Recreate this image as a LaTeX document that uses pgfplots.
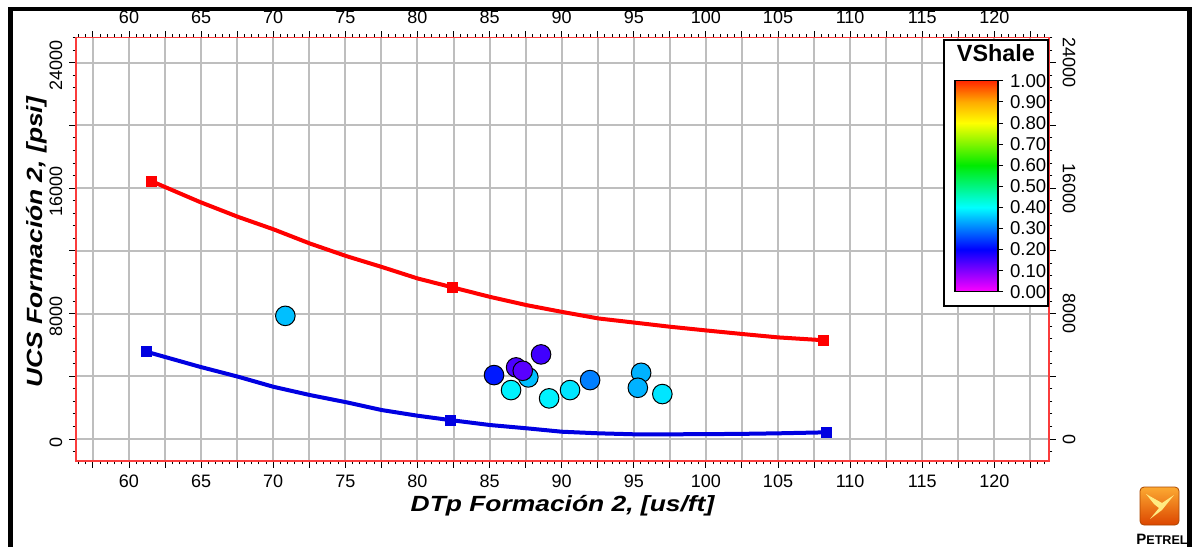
\documentclass[border=0pt]{standalone}
\usepackage{fontspec}
\setmainfont{Liberation Sans}
\newfontfamily\labfont[FakeStretch=1.2]{Liberation Sans}
\usepackage{pgfplots}
\pgfplotsset{compat=1.18}

\definecolor{axred}{RGB}{250,60,60}
\definecolor{gridgray}{RGB}{190,190,190}
\definecolor{lineblue}{RGB}{0,0,225}
\definecolor{logotop}{RGB}{252,170,50}
\definecolor{logobot}{RGB}{220,70,0}
\definecolor{logoedge}{RGB}{170,70,0}
\definecolor{logoin}{RGB}{255,235,130}

\pgfplotsset{
 colormap={petrel}{rgb255(0cm)=(255,0,255) rgb255(2cm)=(0,0,255) rgb255(4cm)=(0,255,255) rgb255(6cm)=(0,235,0) rgb255(8cm)=(255,255,0) rgb255(9cm)=(255,170,0) rgb255(10cm)=(255,40,0)},
 petrelaxis/.style={
  at={(38pt,-230.5pt)}, anchor=south west, scale only axis,
  width=486.5pt, height=211.65pt,
  xmin=56.325, xmax=123.79, ymin=-1403, ymax=25594,
  scaled x ticks=false, scaled y ticks=false,
  xtick={57.5,60,62.5,65,67.5,70,72.5,75,77.5,80,82.5,85,87.5,90,92.5,95,97.5,100,102.5,105,107.5,110,112.5,115,117.5,120,122.5},
  xticklabels={{},60,{},65,{},70,{},75,{},80,{},85,{},90,{},95,{},100,{},105,{},110,{},115,{},120,{}},
  ytick={0,4000,8000,12000,16000,20000,24000},
  yticklabels={0,{},8000,{},16000,{},24000},
  ticklabel style={font=\fontsize{9}{10}\selectfont},
  tick align=outside, major tick length=3.3pt, minor tick length=1.7pt,
 }
}

\pgfplotstableread{
x y v
85.31 4077 0.22
87.69 3930 0.35
86.84 4567 0.14
87.30 4351 0.13
88.57 5395 0.15
86.49 3121 0.39
89.13 2592 0.39
90.58 3121 0.38
91.97 3758 0.30
95.51 4223 0.34
95.28 3268 0.34
96.98 2867 0.38
70.84 7854 0.35
}\vshale

\begin{document}
\begin{tikzpicture}
\useasboundingbox (0,0) rectangle (598pt,-273.5pt);

\begin{axis}[petrelaxis,
 axis line style={draw=axred, line width=0.75pt},
 tick style={black, line width=0.5pt},
 minor xtick={56.5,57,...,123.5},
 minor ytick={-800,0,...,25600},
 grid=major, major grid style={color=gridgray, line width=1pt},
 xlabel={\labfont\bfseries\itshape DTp Formación 2, [us/ft]},
 ylabel={\labfont\bfseries\itshape UCS Formación 2, [psi]},
 xlabel style={at={(axis description cs:0.5,-0.1181)}, anchor=base, font=\fontsize{11}{13}\selectfont},
 ylabel style={at={(axis description cs:-0.0349,0.517)}, anchor=base, font=\fontsize{11}{13}\selectfont},
 yticklabel style={rotate=90, anchor=south, xshift=-1.5pt},
 point meta min=0, point meta max=1, colormap name=petrel,
 colorbar,
 colorbar/width=21.5pt,
 colorbar style={
  scale only axis,
  at={(parent axis.north east)}, anchor=north west, xshift=-55.5pt, yshift=-21.5pt,
  height=105.5pt,
  ytick={0,0.1,0.2,0.3,0.4,0.5,0.6,0.7,0.8,0.9,1},
  ytick pos=right, yticklabel pos=right,
  yticklabel style={font=\fontsize{9.3}{10}\selectfont, /pgf/number format/.cd, fixed, fixed zerofill, precision=2, assume math mode=true},
  tick align=outside, major tick length=2.5pt, tick style={black, line width=0.4pt},
  axis line style={black, line width=0.6pt},
 },
]
\addplot[red, line width=2pt, mark=square*, mark size=1.75pt, mark indices={1,9,19}, mark options={solid}] coordinates {
(61.53,16454) (64.92,15116) (67.58,14161) (70.01,13377) (72.55,12466) (75.10,11657) (77.52,10975) (80.02,10237) (82.40,9680) (85.03,9065) (87.58,8536) (90.01,8109) (92.55,7689) (95.09,7420) (97.52,7160) (100.06,6920) (102.60,6690) (105.02,6480) (108.15,6300)};
\addplot[lineblue, line width=2pt, mark=square*, mark size=1.75pt, mark indices={1,9,19}, mark options={solid}] coordinates {
(61.23,5561) (64.92,4605) (67.58,3969) (70.01,3331) (72.55,2803) (75.10,2338) (77.52,1847) (80.02,1484) (82.26,1210) (85.03,892) (87.58,682) (90.01,465) (92.55,363) (95.09,299) (97.52,300) (100.06,310) (102.60,330) (105.02,363) (108.38,427)};
\addplot[scatter, only marks, mark=*, mark size=4.9pt, point meta=explicit,
 scatter/use mapped color={draw=black, fill=mapped color, line width=0.5pt}]
 table[x=x, y=y, meta=v] {\vshale};
\draw[black, line width=0.7pt, fill=white] (rel axis cs:0.8921,0.3662) rectangle (rel axis cs:0.999,0.9946);
\node[font=\bfseries\fontsize{11.7}{14}\selectfont] at (rel axis cs:0.9455,0.9639) {VShale};
\end{axis}

\begin{axis}[petrelaxis,
 xticklabel pos=right, yticklabel pos=right,
 axis line style={draw=none}, tick style={draw=none},
 yticklabel style={rotate=-90, anchor=south},
]
\end{axis}

% Petrel logo
\shade[rounded corners=2pt, top color=logotop, bottom color=logobot, draw=logoedge, line width=0.4pt] (570pt,-243.5pt) rectangle (589.5pt,-262.5pt);
\fill[logoin] (573pt,-247pt) -- (581pt,-251.5pt) -- (587pt,-247.5pt) -- (581pt,-255pt) -- (575pt,-259.5pt) -- (579.5pt,-254pt) -- (577pt,-252pt) -- cycle;
\node[anchor=base, font=\bfseries\fontsize{7.5}{8}\selectfont, inner sep=0pt] at (581pt,-272pt) {P{\fontsize{6.3}{7}\selectfont ETREL}};

% outer frame
\draw[black, line width=2.3pt] (5.25pt,-273.5pt) -- (5.25pt,-4.5pt) -- (594.75pt,-4.5pt) -- (594.75pt,-273.5pt);
\end{tikzpicture}
\end{document}
